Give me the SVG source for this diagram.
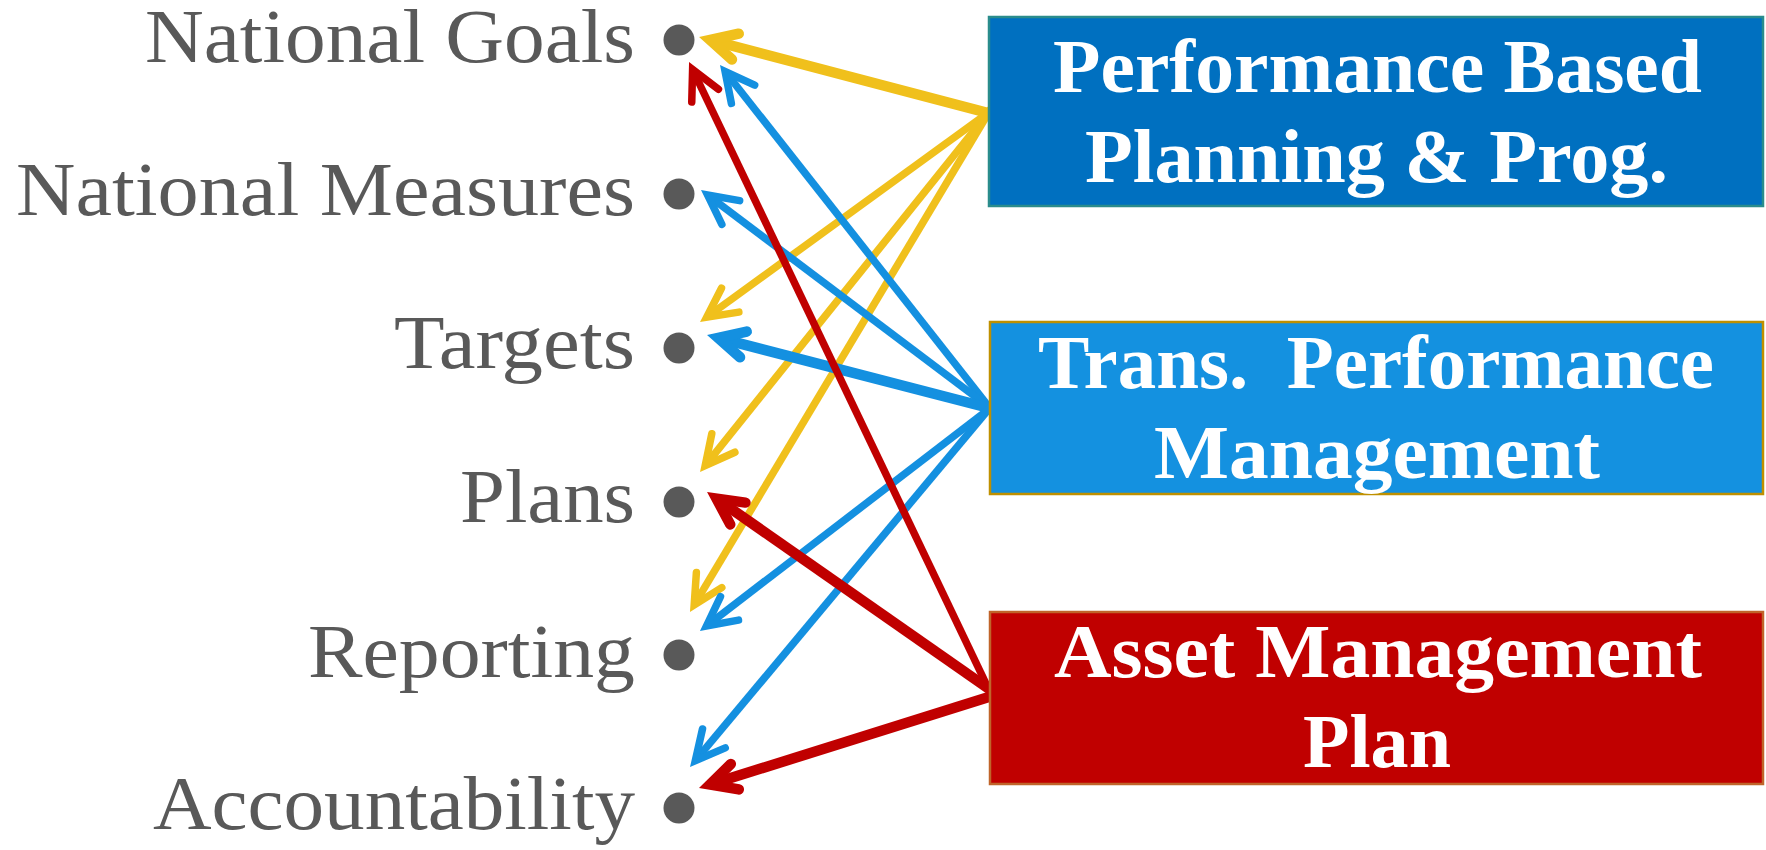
<svg xmlns="http://www.w3.org/2000/svg" width="1766" height="850" viewBox="0 0 1766 850">
<style>
.lbl{font-family:"Liberation Serif","DejaVu Serif",serif;font-size:76px;fill:#595959}
.bt{font-family:"Liberation Serif","DejaVu Serif",serif;font-size:76px;font-weight:bold;fill:#ffffff;white-space:pre}
.dot{fill:#595959}
.c{fill:none;stroke-linecap:butt}
.y{stroke:#F0C01C}
.b{stroke:#1490E0}
.r{stroke:#C00000}
.thick{stroke-width:10.5}
.thin{stroke-width:7.5}
</style>
<defs>
<marker id="mY9" viewBox="-50 -30 60 60" refX="0" refY="0" markerWidth="60" markerHeight="60" markerUnits="userSpaceOnUse" orient="auto" overflow="visible">
<path d="M-26,-13.3 L0,0 L-26,13.3" fill="none" stroke="#F0C01C" stroke-width="10.5" stroke-linecap="round" stroke-linejoin="miter"/>
</marker>
<marker id="mY6" viewBox="-50 -30 60 60" refX="0" refY="0" markerWidth="60" markerHeight="60" markerUnits="userSpaceOnUse" orient="auto" overflow="visible">
<path d="M-29,-14.8 L0,0 L-29,14.8" fill="none" stroke="#F0C01C" stroke-width="7.5" stroke-linecap="round" stroke-linejoin="miter"/>
</marker>
<marker id="mB9" viewBox="-50 -30 60 60" refX="0" refY="0" markerWidth="60" markerHeight="60" markerUnits="userSpaceOnUse" orient="auto" overflow="visible">
<path d="M-26,-13.3 L0,0 L-26,13.3" fill="none" stroke="#1490E0" stroke-width="10.5" stroke-linecap="round" stroke-linejoin="miter"/>
</marker>
<marker id="mB6" viewBox="-50 -30 60 60" refX="0" refY="0" markerWidth="60" markerHeight="60" markerUnits="userSpaceOnUse" orient="auto" overflow="visible">
<path d="M-29,-14.8 L0,0 L-29,14.8" fill="none" stroke="#1490E0" stroke-width="7.5" stroke-linecap="round" stroke-linejoin="miter"/>
</marker>
<marker id="mR9" viewBox="-50 -30 60 60" refX="0" refY="0" markerWidth="60" markerHeight="60" markerUnits="userSpaceOnUse" orient="auto" overflow="visible">
<path d="M-26,-13.3 L0,0 L-26,13.3" fill="none" stroke="#C00000" stroke-width="10.5" stroke-linecap="round" stroke-linejoin="miter"/>
</marker>
<marker id="mR6" viewBox="-50 -30 60 60" refX="0" refY="0" markerWidth="60" markerHeight="60" markerUnits="userSpaceOnUse" orient="auto" overflow="visible">
<path d="M-29,-14.8 L0,0 L-29,14.8" fill="none" stroke="#C00000" stroke-width="7.5" stroke-linecap="round" stroke-linejoin="miter"/>
</marker>
</defs>

<g id="connectors">
<path class="c y thick" d="M992,114 L710.2,40" marker-end="url(#mY9)"/>
<path class="c y thin" d="M992,110 L706.7,317.2" marker-end="url(#mY6)"/>
<path class="c y thin" d="M992,108 L705.2,465.6" marker-end="url(#mY6)"/>
<path class="c y thin" d="M992,107 L694.2,604.9" marker-end="url(#mY6)"/>
<path class="c b thin" d="M993,412 L725.1,71.5" marker-end="url(#mB6)"/>
<path class="c b thin" d="M993,410 L707.6,195" marker-end="url(#mB6)"/>
<path class="c b thick" d="M993,409 L718.2,337.9" marker-end="url(#mB9)"/>
<path class="c b thin" d="M993,406 L706.5,626" marker-end="url(#mB6)"/>
<path class="c b thin" d="M993,404 L695.3,760.7" marker-end="url(#mB6)"/>
<path class="c r thin" d="M990,692 L692.6,69.5" marker-end="url(#mR6)"/>
<path class="c r thick" d="M992,691 L716.5,498.6" marker-end="url(#mR9)"/>
<path class="c r thick" d="M992,696 L710.0,784.5" marker-end="url(#mR9)"/>
</g>

<g id="national-goals">
<circle class="dot" cx="679" cy="40" r="15.5"/>
<text class="lbl" x="145" y="62" textLength="490" lengthAdjust="spacingAndGlyphs">National Goals</text>
</g>
<g id="national-measures">
<circle class="dot" cx="679" cy="194" r="15.5"/>
<text class="lbl" x="16" y="215" textLength="619" lengthAdjust="spacingAndGlyphs">National Measures</text>
</g>
<g id="targets">
<circle class="dot" cx="679" cy="348" r="15.5"/>
<text class="lbl" x="394" y="368" textLength="241" lengthAdjust="spacingAndGlyphs">Targets</text>
</g>
<g id="plans">
<circle class="dot" cx="679" cy="502" r="15.5"/>
<text class="lbl" x="460" y="522" textLength="175" lengthAdjust="spacingAndGlyphs">Plans</text>
</g>
<g id="reporting">
<circle class="dot" cx="679" cy="655" r="15.5"/>
<text class="lbl" x="308" y="677" textLength="327" lengthAdjust="spacingAndGlyphs">Reporting</text>
</g>
<g id="accountability">
<circle class="dot" cx="679" cy="808" r="15.5"/>
<text class="lbl" x="153" y="829" textLength="482" lengthAdjust="spacingAndGlyphs">Accountability</text>
</g>

<g id="pbpp">
<rect x="989" y="17" width="774" height="189" fill="#0070C0" stroke="#2A8C8C" stroke-width="2.5"/>
<text class="bt" x="1053" y="92" textLength="649" lengthAdjust="spacingAndGlyphs">Performance Based</text>
<text class="bt" x="1085" y="182" textLength="583" lengthAdjust="spacingAndGlyphs">Planning &amp; Prog.</text>
</g>
<g id="tpm">
<rect x="990" y="322" width="773" height="172" fill="#1491E0" stroke="#BF9000" stroke-width="2.5"/>
<text class="bt" x="1038" y="388" textLength="676" lengthAdjust="spacingAndGlyphs">Trans.  Performance</text>
<text class="bt" x="1154" y="478" textLength="446" lengthAdjust="spacingAndGlyphs">Management</text>
</g>
<g id="amp">
<rect x="990" y="612" width="773" height="172" fill="#C00000" stroke="#C0642A" stroke-width="2.5"/>
<text class="bt" x="1054" y="677" textLength="648" lengthAdjust="spacingAndGlyphs">Asset Management</text>
<text class="bt" x="1303" y="767" textLength="148" lengthAdjust="spacingAndGlyphs">Plan</text>
</g>
</svg>
